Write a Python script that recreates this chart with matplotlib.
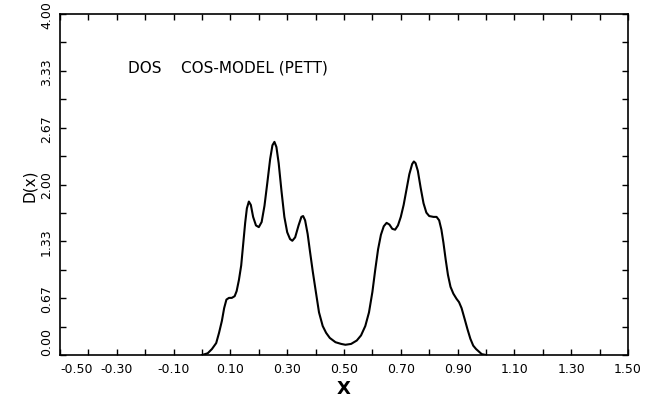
import matplotlib
matplotlib.use("Agg")
import matplotlib.pyplot as plt
from matplotlib.ticker import FixedLocator, FixedFormatter

plt.rcParams['axes.unicode_minus'] = False
plt.rcParams['font.family'] = ['DejaVu Sans']

# Density of states D(x)
x_vals = [0.00, 0.02, 0.035, 0.05, 0.06, 0.07, 0.078, 0.086, 0.095, 0.105, 0.115,
          0.122, 0.13, 0.138, 0.145, 0.152, 0.158, 0.165, 0.172, 0.180, 0.190,
          0.200, 0.210, 0.220, 0.230, 0.240, 0.248, 0.255, 0.262, 0.270, 0.280,
          0.290, 0.300, 0.310, 0.318, 0.328, 0.340, 0.350, 0.356, 0.363, 0.372,
          0.380, 0.390, 0.400, 0.412, 0.425, 0.437, 0.450, 0.470, 0.490, 0.505,
          0.525, 0.545, 0.560, 0.575, 0.588, 0.600, 0.610, 0.620, 0.630, 0.640,
          0.650, 0.660, 0.670, 0.680, 0.690, 0.700, 0.710, 0.720, 0.730, 0.740,
          0.746, 0.752, 0.760, 0.770, 0.780, 0.790, 0.800, 0.815, 0.826, 0.835,
          0.843, 0.850, 0.858, 0.866, 0.875, 0.885, 0.896, 0.905, 0.914, 0.925,
          0.935, 0.945, 0.955, 0.965, 0.975, 0.985, 1.00]
d_vals = [0.00, 0.02, 0.07, 0.14, 0.26, 0.40, 0.55, 0.65, 0.67, 0.67, 0.69,
          0.75, 0.88, 1.05, 1.30, 1.55, 1.72, 1.80, 1.76, 1.62, 1.52,
          1.50, 1.56, 1.75, 2.02, 2.30, 2.46, 2.50, 2.44, 2.25, 1.92,
          1.62, 1.44, 1.36, 1.34, 1.38, 1.52, 1.62, 1.63, 1.58, 1.42,
          1.22, 0.98, 0.76, 0.50, 0.34, 0.26, 0.20, 0.15, 0.13, 0.12,
          0.13, 0.17, 0.23, 0.34, 0.50, 0.74, 1.00, 1.24, 1.41, 1.51,
          1.55, 1.53, 1.48, 1.47, 1.52, 1.62, 1.76, 1.94, 2.12, 2.24,
          2.27, 2.25, 2.16, 1.96, 1.78, 1.67, 1.63, 1.62, 1.62, 1.58,
          1.47, 1.32, 1.12, 0.94, 0.80, 0.72, 0.66, 0.62, 0.55, 0.42,
          0.30, 0.19, 0.11, 0.07, 0.04, 0.01, 0.00]

x_major = [-0.5, -0.3, -0.1, 0.1, 0.3, 0.5, 0.7, 0.9, 1.1, 1.3, 1.5]
x_major_labels = ["-0.50", "-0.30", "-0.10", "0.10", "0.30", "0.50",
                  "0.70", "0.90", "1.10", "1.30", "1.50"]
x_minor = [-0.4, -0.2, 0.0, 0.2, 0.4, 0.6, 0.8, 1.0, 1.2, 1.4]
y_major = [0.0, 2/3, 4/3, 2.0, 8/3, 10/3, 4.0]
y_major_labels = ["0.00", "0.67", "1.33", "2.00", "2.67", "3.33", "4.00"]
y_minor = [1/3, 1.0, 5/3, 7/3, 3.0, 11/3]

title_text = "DOS    COS-MODEL (PETT)"

fig = plt.figure(figsize=(6.6, 4.06), dpi=100)
ax = fig.add_axes([60/660, 1 - 356/406, (628 - 60)/660, (356 - 15)/406])

ax.plot(x_vals, d_vals, color="black", lw=1.5, solid_joinstyle="round")

ax.set_xlim(-0.5, 1.5)
ax.set_ylim(0.0, 4.0)

ax.xaxis.set_major_locator(FixedLocator(x_major))
ax.xaxis.set_major_formatter(FixedFormatter(x_major_labels))
ax.xaxis.set_minor_locator(FixedLocator(x_minor))
ax.yaxis.set_major_locator(FixedLocator(y_major))
ax.yaxis.set_major_formatter(FixedFormatter(y_major_labels))
ax.yaxis.set_minor_locator(FixedLocator(y_minor))

ax.tick_params(which="both", direction="in", top=True, right=True,
               length=4, width=1.0, colors="black")
ax.tick_params(axis="x", which="major", labelsize=9, pad=5)
ax.tick_params(axis="y", which="major", labelsize=9, pad=5, labelrotation=90)

fig.canvas.draw()
ylabels = ax.get_yticklabels()
for lbl in ylabels:
    lbl.set_va("center")
ylabels[0].set_va("bottom")
xlabels = ax.get_xticklabels()
xlabels[0].set_ha("left")

for s in ax.spines.values():
    s.set_linewidth(1.2)
    s.set_color("black")

ax.set_xlabel("X", fontsize=13, fontweight="bold", labelpad=3)
ax.set_ylabel("D(x)", fontsize=11, labelpad=2)

ax.text(-0.262, 3.38, title_text, fontsize=11, va="center", ha="left")

fig.savefig("out.png", dpi=100, facecolor="white")
